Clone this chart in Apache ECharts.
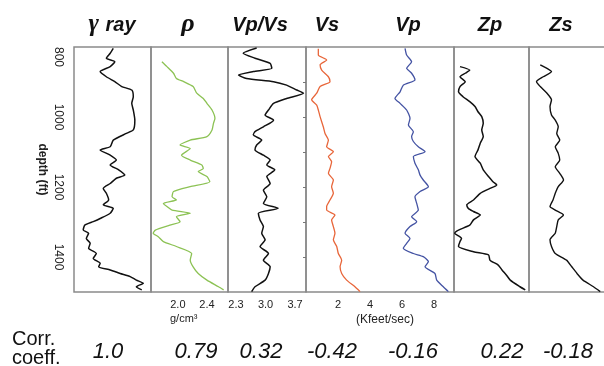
<!DOCTYPE html>
<html>
<head>
<meta charset="utf-8">
<script src="https://cdn.jsdelivr.net/npm/echarts@6/dist/echarts.min.js"></script>
<style>
  html, body { margin: 0; padding: 0; background: #fff; }
  #main { width: 604px; height: 366px; }
</style>
</head>
<body>
<div id="main"></div>
<script>
// depth (ft) of each reading, value
var depthTicks = [800, 1000, 1200, 1400];
var depthMinorTicks = [900, 1000, 1100, 1200, 1300, 1400];

var gammaDepth = [804,818,832,842,856,870,885,899,913,923,942,961,980,1009,1037,1047,1066,1085,1094,1109,1123,1137,1151,1166,1175,1190,1204,1218,1237,1251,1261,1275,1290,1299,1309,1323,1332,1347,1361,1375,1390,1404,1418,1428,1437,1447,1456,1466,1475,1485,1494];
var gammaVal = [51,47,42,53,47,34,42,53,62,75,77,75,77,79,77,68,51,47,34,47,55,47,58,66,55,47,38,42,45,38,51,47,34,25,14,12,19,16,21,19,29,25,34,32,47,60,73,81,90,81,88];

var rhoDepth = [842,856,875,890,899,913,932,947,961,980,1004,1018,1037,1056,1066,1080,1090,1109,1123,1137,1147,1156,1170,1185,1199,1213,1228,1237,1247,1256,1266,1275,1285,1299,1309,1323,1332,1342,1356,1370,1390,1409,1428,1447,1466,1485,1494];
var rhoVal = [1.78,1.85,1.94,1.98,2.08,2.21,2.26,2.35,2.40,2.47,2.51,2.49,2.47,2.40,2.17,2.03,2.17,2.05,2.17,2.33,2.35,2.28,2.40,2.44,2.17,1.94,1.92,1.98,1.80,1.85,1.92,2.17,1.98,2.03,1.89,1.69,1.66,1.73,1.80,1.98,2.19,2.17,2.21,2.28,2.40,2.56,2.63];

var vpvsDepth = [803,818,832,847,861,870,880,890,899,909,923,932,947,961,980,994,1009,1028,1042,1051,1066,1080,1094,1109,1123,1137,1151,1170,1190,1209,1228,1247,1261,1275,1294,1313,1332,1351,1370,1390,1409,1428,1447,1466,1485,1499];
var vpvsVal = [2.79,2.47,2.75,3.11,3.15,2.71,2.36,2.55,3.19,3.50,3.74,3.90,3.50,3.19,3.07,2.99,3.19,2.95,2.75,2.71,2.91,2.79,2.75,2.95,3.11,3.03,3.22,3.03,3.11,2.95,3.03,2.95,3.30,2.83,2.87,2.95,2.91,2.99,2.87,3.07,2.95,3.11,3.07,2.99,2.75,2.67];

var vsDepth = [805,823,837,851,866,885,899,913,932,951,966,980,999,1028,1047,1066,1085,1099,1113,1128,1147,1161,1180,1199,1218,1237,1256,1266,1280,1294,1313,1332,1351,1370,1390,1409,1428,1447,1466,1485,1499];
var vsVal = [0.77,0.77,1.29,0.88,0.98,1.40,1.50,0.88,0.67,0.35,0.67,0.77,0.88,1.08,1.19,1.40,1.29,1.71,1.40,1.60,1.50,1.40,1.71,1.60,1.71,1.50,1.29,1.29,1.81,1.60,1.71,1.81,1.71,1.92,2.02,2.23,2.13,2.23,2.54,3.06,3.38];

var vpDepth = [804,823,842,861,875,894,909,928,947,961,980,1004,1023,1042,1056,1070,1085,1099,1113,1132,1151,1166,1180,1199,1213,1228,1247,1266,1285,1299,1313,1332,1347,1361,1375,1390,1399,1413,1428,1447,1466,1485,1499];
var vpVal = [6.19,6.29,6.60,6.29,6.60,6.81,6.08,5.88,5.56,5.88,6.29,6.50,6.40,6.71,6.60,6.71,7.02,7.44,6.71,6.81,7.02,7.13,7.33,7.65,7.13,6.81,6.92,7.02,6.60,6.92,6.50,6.19,6.50,6.29,6.08,6.71,7.33,7.65,7.44,8.06,8.17,8.58,8.90];

var zpDepth = [856,866,875,885,899,913,928,942,956,970,985,999,1018,1037,1056,1075,1094,1113,1132,1151,1170,1185,1194,1204,1218,1237,1251,1261,1270,1280,1294,1309,1323,1332,1347,1356,1370,1385,1394,1409,1423,1437,1452,1466,1485,1494];
var zpVal = [8,21,15,8,15,8,6,12,21,28,32,37,39,37,39,35,32,28,35,39,46,52,57,48,35,26,17,19,26,35,26,21,6,1,10,8,6,26,46,48,59,64,70,75,88,95];

var zsDepth = [851,861,870,885,899,913,932,951,970,994,1009,1028,1047,1066,1085,1104,1123,1142,1161,1180,1199,1218,1237,1256,1266,1280,1294,1313,1332,1351,1370,1390,1409,1428,1447,1466,1485,1499];
var zsVal = [15,24,30,19,10,15,24,30,28,30,35,39,37,41,35,39,41,35,41,46,39,35,32,28,35,46,39,37,35,28,30,35,50,57,64,72,86,95];

var rhoTicks = [2.0, 2.4];
var vpvsTicks = [2.3, 3.0, 3.7];
var velTicks = [2, 4, 6, 8];

var trackTitles = ['ray', 'Vp/Vs', 'Vs', 'Vp', 'Zp', 'Zs'];
var corrCoeff = ['1.0', '0.79', '0.32', '-0.42', '-0.16', '0.22', '-0.18'];

var FONT = '"Liberation Sans", Arial, sans-serif';
var SERIF = '"Liberation Serif", "Times New Roman", serif';

function pairs(vals, depths) {
    var out = [];
    for (var i = 0; i < vals.length; i++) out.push([vals[i], depths[i]]);
    return out;
}

// track panels (left edge, width); the last one runs off the right edge
var panels = [[74, 77], [151, 77], [228, 78], [306, 148], [454, 75], [529, 90]];
var grids = panels.map(function (p) {
    return {
        left: p[0], width: p[1], top: 47, height: 245,
        outerBoundsMode: 'none', containLabel: false,
        show: true, borderColor: '#8a8a8a', borderWidth: 1.5, backgroundColor: 'transparent'
    };
});

function hiddenX(i, min, max) {
    return { type: 'value', gridIndex: i, min: min, max: max, show: false };
}
function labelledX(i, min, max, ticks, digits) {
    return {
        type: 'value', gridIndex: i, min: min, max: max, position: 'bottom',
        axisLine: { show: false }, axisTick: { show: false }, splitLine: { show: false },
        axisLabel: {
            customValues: ticks, margin: 7, color: '#222', fontSize: 11, fontFamily: FONT,
            formatter: function (v) { return v.toFixed(digits); }
        }
    };
}

var xAxes = [
    hiddenX(0, 0, 100),
    labelledX(1, 1.63, 2.69, rhoTicks, 1),
    labelledX(2, 2.11, 3.96, vpvsTicks, 1),
    labelledX(3, 0, 9.25, velTicks, 0),
    hiddenX(4, 0, 100),
    hiddenX(5, 0, 120)
];

var yAxes = panels.map(function (p, i) {
    return { type: 'value', gridIndex: i, min: 800, max: 1500, inverse: true, show: false };
});
yAxes[0] = {
    type: 'value', gridIndex: 0, min: 800, max: 1500, inverse: true,
    axisLine: { show: false }, axisTick: { show: false }, splitLine: { show: false },
    axisLabel: {
        customValues: depthTicks, rotate: -90, margin: 10, color: '#222',
        fontSize: 12, fontFamily: FONT, alignMinLabel: 'left',
        formatter: function (v) { return String(v); }
    },
    name: 'depth (ft)', nameLocation: 'middle', nameRotate: -90, nameGap: 26,
    nameTextStyle: { fontSize: 12, fontWeight: 'bold', color: '#222', fontFamily: FONT }
};
yAxes[3] = {
    type: 'value', gridIndex: 3, min: 800, max: 1500, inverse: true,
    axisLine: { show: false }, axisLabel: { show: false }, splitLine: { show: false },
    axisTick: { show: true, customValues: depthMinorTicks, length: 3, lineStyle: { color: '#777' } }
};

function logSeries(i, vals, depths, color, w) {
    return {
        type: 'line', xAxisIndex: i, yAxisIndex: i,
        data: pairs(vals, depths),
        showSymbol: false, smooth: 0.2,
        lineStyle: { color: color, width: w },
        silent: true
    };
}

var titleX = [260, 327, 408, 490, 561];
var coeffX = [108, 196, 261, 332, 413, 502, 568];

var graphics = [];
graphics.push({
    type: 'text', x: 112, y: 25,
    style: {
        text: '{g|γ}  {r|ray}', align: 'center', verticalAlign: 'middle',
        textAlign: 'center', textVerticalAlign: 'middle',
        rich: {
            g: { fontFamily: SERIF, fontStyle: 'italic', fontWeight: 'bold', fontSize: 25, fill: '#111' },
            r: { fontFamily: FONT, fontStyle: 'italic', fontWeight: 'bold', fontSize: 20, fill: '#111' }
        }
    }
});
graphics.push({
    type: 'text', x: 188, y: 24,
    style: {
        text: 'ρ', align: 'center', verticalAlign: 'middle', textAlign: 'center', textVerticalAlign: 'middle',
        font: 'italic bold 26px ' + SERIF, fill: '#111'
    }
});
trackTitles.slice(1).forEach(function (t, i) {
    graphics.push({
        type: 'text', x: titleX[i], y: 25,
        style: {
            text: t, align: 'center', verticalAlign: 'middle', textAlign: 'center', textVerticalAlign: 'middle',
            font: 'italic bold 20px ' + FONT, fill: '#111'
        }
    });
});
graphics.push({
    type: 'text', x: 170, y: 319,
    style: { text: 'g/cm³', align: 'left', verticalAlign: 'middle', textAlign: 'left', textVerticalAlign: 'middle',
        font: '11px ' + FONT, fill: '#222' }
});
graphics.push({
    type: 'text', x: 385, y: 320,
    style: { text: '(Kfeet/sec)', align: 'center', verticalAlign: 'middle', textAlign: 'center', textVerticalAlign: 'middle',
        font: '12px ' + FONT, fill: '#222' }
});
graphics.push({
    type: 'text', x: 12, y: 339,
    style: { text: 'Corr.', align: 'left', verticalAlign: 'middle', textAlign: 'left', textVerticalAlign: 'middle',
        font: '20px ' + FONT, fill: '#111' }
});
graphics.push({
    type: 'text', x: 12, y: 358,
    style: { text: 'coeff.', align: 'left', verticalAlign: 'middle', textAlign: 'left', textVerticalAlign: 'middle',
        font: '20px ' + FONT, fill: '#111' }
});
corrCoeff.forEach(function (c, i) {
    graphics.push({
        type: 'text', x: coeffX[i], y: 352,
        style: { text: c, align: 'center', verticalAlign: 'middle', textAlign: 'center', textVerticalAlign: 'middle',
            font: 'italic 22px ' + FONT, fill: '#111' }
    });
});

var option = {
    animation: false,
    backgroundColor: '#fff',
    grid: grids,
    xAxis: xAxes,
    yAxis: yAxes,
    series: [
        logSeries(0, gammaVal, gammaDepth, '#111', 1.5),
        logSeries(1, rhoVal, rhoDepth, '#8cc254', 1.3),
        logSeries(2, vpvsVal, vpvsDepth, '#111', 1.5),
        logSeries(3, vsVal, vsDepth, '#e8663a', 1.3),
        logSeries(3, vpVal, vpDepth, '#4453a3', 1.3),
        logSeries(4, zpVal, zpDepth, '#111', 1.5),
        logSeries(5, zsVal, zsDepth, '#111', 1.4)
    ],
    graphic: graphics
};

var myChart = echarts.init(document.getElementById('main'));
myChart.setOption(option);
</script>
</body>
</html>
